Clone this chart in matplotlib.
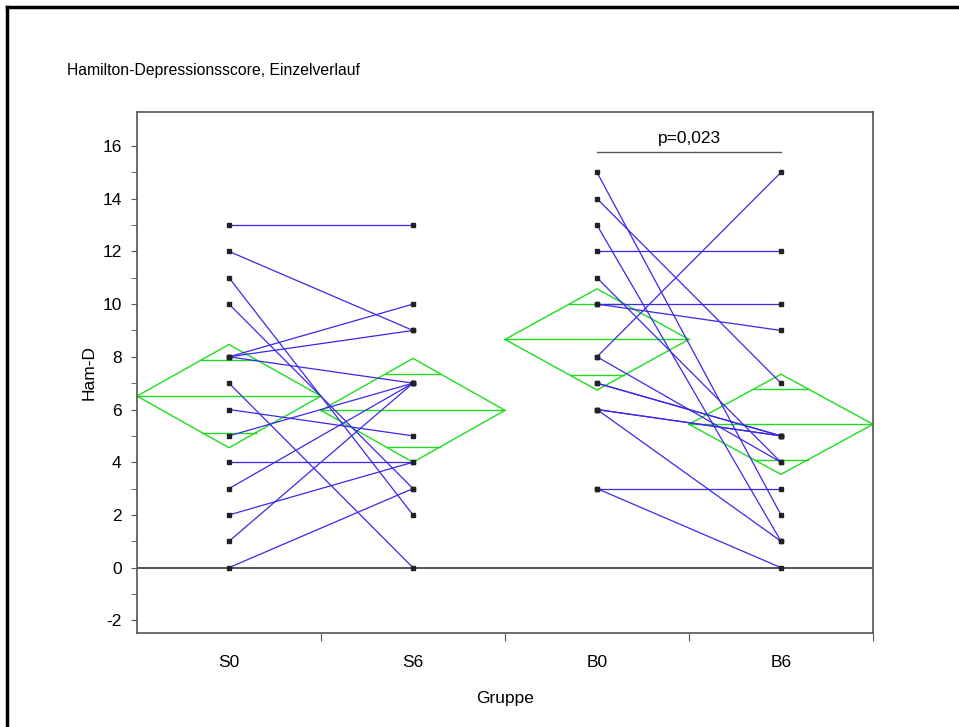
import numpy as np
import matplotlib.pyplot as plt
from matplotlib.lines import Line2D

plt.rcParams['font.family'] = ['Liberation Sans', 'DejaVu Sans']
plt.rcParams['axes.unicode_minus'] = False

groups = ["S0", "S6", "B0", "B6"]

# individual courses (start value, value after 6 weeks)
s0 = [13, 12, 11, 10, 8, 8, 8, 7, 6, 5, 4, 3, 2, 1, 0]
s6 = [13, 9, 2, 3, 10, 9, 7, 0, 5, 7, 4, 7, 4, 7, 3]
b0 = [15, 14, 13, 12, 11, 10, 10, 8, 8, 7, 7, 6, 6, 6, 3, 3]
b6 = [2, 7, 1, 12, 4, 10, 9, 15, 4, 5, 5, 5, 5, 1, 3, 0]

# means diamonds (mean, half width of 95% CI)
means = [6.51, 5.97, 8.66, 5.44]
ci_half = [1.96, 1.97, 1.92, 1.90]

p_text = "p=0,023"

blue = "#3c28ec"
green = "#20dc20"
fs = 12.5

fig = plt.figure(figsize=(9.59, 7.27), dpi=100)
ax = fig.add_axes([137/959, 1-633/727, 736/959, 521/727])

xpos = np.arange(len(groups)) + 0.5

# zero line
ax.axhline(0, color="#444444", lw=1.3, zorder=1)

# means diamonds
for i, (m, h) in enumerate(zip(means, ci_half)):
    x0, xc, x1 = i, i + 0.5, i + 1
    ax.plot([x0, xc, x1, xc, x0], [m, m + h, m, m - h, m], color=green, lw=1, zorder=2)
    ax.plot([x0, x1], [m, m], color=green, lw=1, zorder=2)
    d = h / np.sqrt(2)
    frac = 0.5 * (1 - d / h)
    for yy in (m + d, m - d):
        ax.plot([xc - frac, xc + frac], [yy, yy], color=green, lw=1, zorder=2)

# individual lines
for a, b in zip(s0, s6):
    ax.plot([xpos[0], xpos[1]], [a, b], color=blue, lw=0.9, zorder=3)
for a, b in zip(b0, b6):
    ax.plot([xpos[2], xpos[3]], [a, b], color=blue, lw=0.9, zorder=3)

# points
for i, vals in enumerate([s0, s6, b0, b6]):
    ax.plot(np.full(len(vals), xpos[i]), vals, ls="none", marker="s",
            ms=3.5, color="#222222", zorder=4)

# significance bracket
ax.plot([xpos[2], xpos[3]], [15.77, 15.77], color="#555555", lw=1, zorder=3)
ax.text((xpos[2] + xpos[3]) / 2, 16.0, p_text, ha="center", va="bottom", fontsize=fs)

ax.set_xlim(0, 4)
ax.set_ylim(-2.48, 17.29)
ax.set_yticks(np.arange(-2, 17, 2))
ax.set_yticks(np.arange(-1, 17, 2), minor=True)
ax.set_xticks([1, 2, 3, 4])
ax.set_xticklabels([])
ax.set_xticks(xpos, minor=True)
ax.set_xticklabels(groups, minor=True, fontsize=fs)
ax.tick_params(axis="x", which="minor", length=0, pad=16)
ax.tick_params(axis="x", which="major", length=6, color="#555555")
ax.tick_params(axis="y", which="both", length=4, color="#555555", labelsize=fs, pad=7)
for s in ax.spines.values():
    s.set_color("#555555")
    s.set_linewidth(1.2)

ax.set_ylabel("Ham-D", fontsize=fs, labelpad=4)
ax.set_xlabel("Gruppe", fontsize=fs, labelpad=15)

fig.text(67/959, 1-70/727, "Hamilton-Depressionsscore, Einzelverlauf", fontsize=11.3, va="center")

# page frame (top and left edge)
fig.add_artist(Line2D([7/959, 1], [1-7/727, 1-7/727], color="black", lw=2.5))
fig.add_artist(Line2D([7/959, 7/959], [0, 1-7/727], color="black", lw=2.5))

fig.savefig("out.png", dpi=100)
